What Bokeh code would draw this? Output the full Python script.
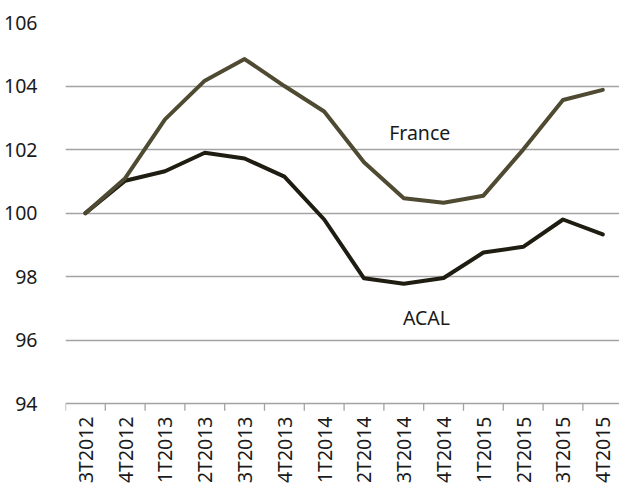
import math
from bokeh.plotting import figure
from bokeh.models import FixedTicker, Range1d
from bokeh.core.properties import value
from bokeh.embed import file_html
from bokeh.resources import INLINE

categories = ["3T2012", "4T2012", "1T2013", "2T2013", "3T2013", "4T2013", "1T2014",
              "2T2014", "3T2014", "4T2014", "1T2015", "2T2015", "3T2015", "4T2015"]
france = [100.0, 101.1, 102.95, 104.17, 104.85, 104.0, 103.2, 101.6, 100.47, 100.33,
          100.55, 102.0, 103.56, 103.88]
acal = [100.0, 101.02, 101.32, 101.9, 101.72, 101.15, 99.8, 97.95, 97.78, 97.96,
        98.76, 98.94, 99.8, 99.33]
y_ticks = [94, 96, 98, 100, 102, 104, 106]

FONT = "Noto Sans"
TEXT = "#1a1a1a"
GRID = "#a3a3a3"
xs = list(range(len(categories)))
y_min = min(y_ticks)

# plot frame reaches the bottom of the page; the category axis is drawn at y_min
p = figure(width=619, height=484, output_backend="svg", toolbar_location=None,
           x_range=Range1d(-0.5, 13.42), y_range=Range1d(91.46, 106),
           min_border_left=65, min_border_right=0, min_border_top=22, min_border_bottom=0)
p.outline_line_color = None
p.background_fill_color = "white"
p.border_fill_color = "white"

# grid
p.xgrid.grid_line_color = None
p.ygrid.grid_line_color = GRID
p.ygrid.grid_line_width = 1.3
p.ygrid.ticker = FixedTicker(ticks=y_ticks)

# y axis
p.yaxis.ticker = FixedTicker(ticks=y_ticks)
p.yaxis.axis_line_color = None
p.yaxis.major_tick_line_color = None
p.yaxis.minor_tick_line_color = None
p.yaxis.major_label_standoff = 22
p.yaxis.major_label_text_font = FONT
p.yaxis.major_label_text_font_size = "19.5px"
p.yaxis.major_label_text_color = TEXT

p.xaxis.visible = False

# category axis: boundary ticks below the 94 line, vertical labels
bounds = [i - 0.5 for i in range(len(categories) + 1)]
p.segment(x0=bounds, y0=[y_min] * len(bounds), x1=bounds, y1=[y_min - 0.22] * len(bounds),
          line_color=GRID, line_width=1.3)
p.text(x=xs, y=[y_min - 0.40] * len(categories), text=categories, angle=math.pi / 2,
       text_align="right", text_baseline="middle", text_font=value(FONT),
       text_font_size="19.5px", text_color=TEXT)

p.line(xs, acal, line_color="#1f1c12", line_width=4, line_join="round", line_cap="round")
p.line(xs, france, line_color="#4f4a32", line_width=4, line_join="round", line_cap="round")

p.text(x=[8.40], y=[102.54], text=["France"], text_font=value(FONT), text_font_size="19.5px",
       text_align="center", text_baseline="alphabetic", text_color=TEXT)
p.text(x=[8.57], y=[96.71], text=["ACAL"], text_font=value(FONT), text_font_size="19.5px",
       text_align="center", text_baseline="alphabetic", text_color=TEXT)

open("out.html", "w").write(file_html(p, INLINE))
